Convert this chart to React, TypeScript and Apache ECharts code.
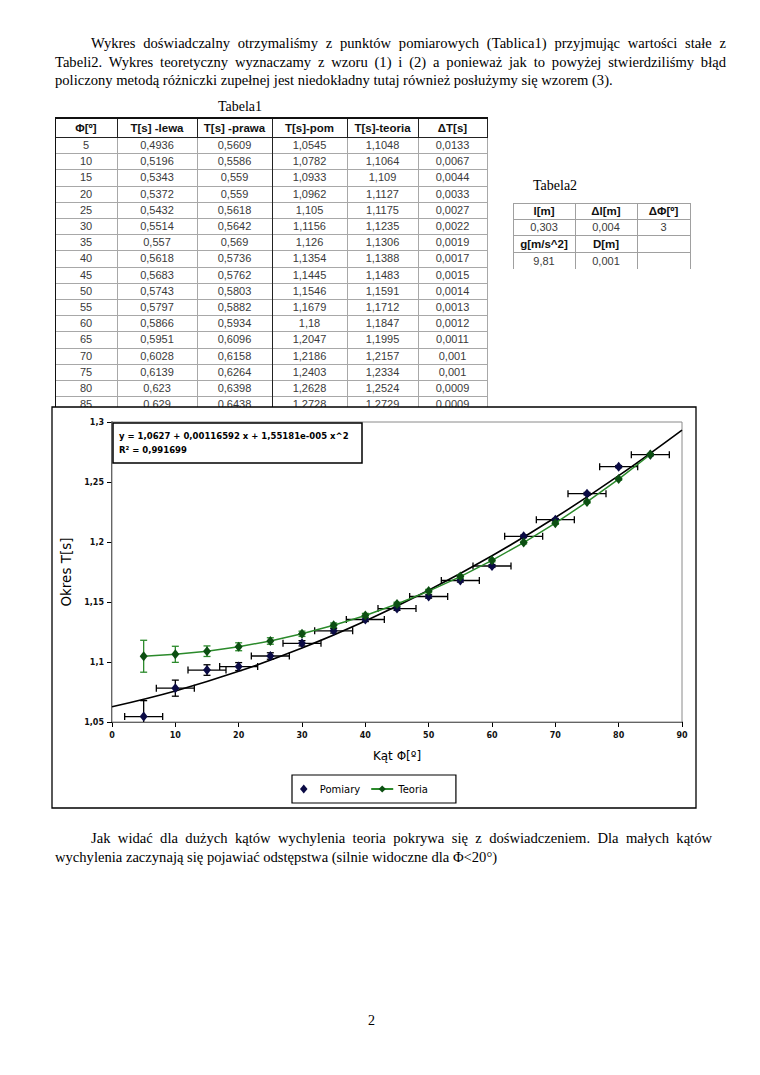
import React, { useEffect, useRef } from "react";
import * as echarts from "echarts";

// ---------- data ----------
const angles = [5, 10, 15, 20, 25, 30, 35, 40, 45, 50, 55, 60, 65, 70, 75, 80, 85];
const tLewa = [0.4936, 0.5196, 0.5343, 0.5372, 0.5432, 0.5514, 0.557, 0.5618, 0.5683, 0.5743, 0.5797, 0.5866, 0.5951, 0.6028, 0.6139, 0.623, 0.629];
const tPrawa = [0.5609, 0.5586, 0.559, 0.559, 0.5618, 0.5642, 0.569, 0.5736, 0.5762, 0.5803, 0.5882, 0.5934, 0.6096, 0.6158, 0.6264, 0.6398, 0.6438];
const tPom = [1.0545, 1.0782, 1.0933, 1.0962, 1.105, 1.1156, 1.126, 1.1354, 1.1445, 1.1546, 1.1679, 1.18, 1.2047, 1.2186, 1.2403, 1.2628, 1.2728];
const tTeoria = [1.1048, 1.1064, 1.109, 1.1127, 1.1175, 1.1235, 1.1306, 1.1388, 1.1483, 1.1591, 1.1712, 1.1847, 1.1995, 1.2157, 1.2334, 1.2524, 1.2729];
const deltaT = [0.0133, 0.0067, 0.0044, 0.0033, 0.0027, 0.0022, 0.0019, 0.0017, 0.0015, 0.0014, 0.0013, 0.0012, 0.0011, 0.001, 0.001, 0.0009, 0.0009];
const deltaPhi = 3;

// trend line
const trendX = [0, 10, 20, 30, 40, 50, 60, 70, 80, 90];
const trendY = [1.0627, 1.0759, 1.0922, 1.1116, 1.1342, 1.1598, 1.1885, 1.2204, 1.2553, 1.2933];

const table1Headers = ["Φ[º]", "T[s] -lewa", "T[s] -prawa", "T[s]-pom", "T[s]-teoria", "ΔT[s]"];
const table2Rows = [
  ["l[m]", "Δl[m]", "ΔΦ[º]"],
  ["0,303", "0,004", "3"],
  ["g[m/s^2]", "D[m]", ""],
  ["9,81", "0,001", ""],
];
const table2HeaderRows = [0, 2];

const equationLine1 = "y = 1,0627 + 0,00116592 x + 1,55181e-005 x^2";
const equationLine2 = "R² = 0,991699";

const yAxisName = "Okres T[s]";
const xAxisName = "Kąt Φ[º]";
const seriesNames = ["Pomiary", "Teoria"];

const para1Lines = [
  "Wykres doświadczalny otrzymaliśmy z punktów pomiarowych (Tablica1) przyjmując wartości stałe z",
  "Tabeli2. Wykres teoretyczny wyznaczamy z wzoru (1) i (2) a ponieważ jak to powyżej stwierdziliśmy błąd",
  "policzony metodą różniczki zupełnej jest niedokładny tutaj również posłużymy się wzorem (3).",
];
const para2Lines = [
  "Jak widać dla dużych kątów wychylenia teoria pokrywa się z doświadczeniem. Dla małych kątów",
  "wychylenia zaczynają się pojawiać odstępstwa (silnie widoczne dla Φ<20°)",
];

// ---------- layout ----------
const Y_MIN = 1.05;
const Y_MAX = 1.3;
const T1_X = 55;
const T1_Y = 118;
const T1_HEAD_H = 19;
const T1_ROW_H = 16.2;
const T1_COLS = [62, 80, 75, 75, 71, 69];
const T2_X = 513;
const T2_Y = 203;
const T2_COLS = [62, 62, 53];
const T2_ROW_H = [16, 16, 17, 17];

const fmt = (v: number) => String(v).replace(".", ",");

const serif = "'Liberation Serif', 'Times New Roman', serif";
const sans = "'Liberation Sans', Arial, sans-serif";
const dejavu = "'DejaVu Sans', sans-serif";

function TextLine({ text, left, top, width, justify }: { text: string; left: number; top: number; width: number; justify: boolean }) {
  return (
    <div
      style={{
        position: "absolute",
        left,
        top,
        width,
        fontFamily: serif,
        fontSize: 14.6,
        lineHeight: "18px",
        textAlign: justify ? "justify" : "left",
        textAlignLast: justify ? "justify" : "left",
        color: "#000",
      }}
    >
      {text}
    </div>
  );
}

function Table1() {
  const els: React.ReactNode[] = [];
  const xs: number[] = [T1_X];
  T1_COLS.forEach((w) => xs.push(xs[xs.length - 1] + w));
  const totalW = xs[xs.length - 1] - T1_X;
  const rows = angles.map((a, i) => [fmt(a), fmt(tLewa[i]), fmt(tPrawa[i]), fmt(tPom[i]), fmt(tTeoria[i]), fmt(deltaT[i])]);
  table1Headers.forEach((h, c) => {
    els.push(
      <div key={"h" + c} style={{ position: "absolute", left: xs[c], top: T1_Y, width: T1_COLS[c], height: T1_HEAD_H, display: "flex", alignItems: "center", justifyContent: "center", fontFamily: sans, fontWeight: "bold", fontSize: 11.5, color: "#111" }}>
        {h}
      </div>
    );
  });
  rows.forEach((r, ri) => {
    const top = T1_Y + T1_HEAD_H + ri * T1_ROW_H;
    r.forEach((v, c) => {
      els.push(
        <div key={"c" + ri + "_" + c} style={{ position: "absolute", left: xs[c], top, width: T1_COLS[c], height: T1_ROW_H, display: "flex", alignItems: "center", justifyContent: "center", fontFamily: sans, fontSize: 11, color: "#3a3a3a" }}>
          {v}
        </div>
      );
    });
    els.push(<div key={"hl" + ri} style={{ position: "absolute", left: T1_X, top: top + T1_ROW_H, width: totalW, height: 1, background: "#a8a8a8" }} />);
  });
  const bottom = T1_Y + T1_HEAD_H + rows.length * T1_ROW_H;
  xs.forEach((x, i) => {
    if (i === 0) return;
    const strong = i === 3;
    els.push(<div key={"vh" + i} style={{ position: "absolute", left: x, top: T1_Y, width: 1, height: T1_HEAD_H, background: "#222" }} />);
    els.push(<div key={"vd" + i} style={{ position: "absolute", left: x - (strong ? 0.5 : 0), top: T1_Y + T1_HEAD_H, width: strong ? 1.5 : 1, height: bottom - T1_Y - T1_HEAD_H, background: strong ? "#222" : "#a8a8a8" }} />);
  });
  els.push(<div key="top" style={{ position: "absolute", left: T1_X, top: T1_Y - 1, width: totalW + 1, height: 2, background: "#111" }} />);
  els.push(<div key="hb" style={{ position: "absolute", left: T1_X, top: T1_Y + T1_HEAD_H - 0.5, width: totalW + 1, height: 1.5, background: "#222" }} />);
  els.push(<div key="left" style={{ position: "absolute", left: T1_X - 0.5, top: T1_Y - 1, width: 1.5, height: bottom - T1_Y + 1, background: "#111" }} />);
  els.push(
    <div key="cap" style={{ position: "absolute", left: T1_X, top: T1_Y - 19, width: 370, textAlign: "center", fontFamily: serif, fontSize: 14, lineHeight: "16px", color: "#000" }}>
      Tabela1
    </div>
  );
  return <>{els}</>;
}

function Table2() {
  const els: React.ReactNode[] = [];
  const xs: number[] = [T2_X];
  T2_COLS.forEach((w) => xs.push(xs[xs.length - 1] + w));
  const ys: number[] = [T2_Y];
  T2_ROW_H.forEach((h) => ys.push(ys[ys.length - 1] + h));
  const totalW = xs[xs.length - 1] - T2_X;
  const totalH = ys[ys.length - 1] - T2_Y;
  table2Rows.forEach((r, ri) => {
    const head = table2HeaderRows.includes(ri);
    r.forEach((v, c) => {
      els.push(
        <div key={ri + "_" + c} style={{ position: "absolute", left: xs[c], top: ys[ri], width: T2_COLS[c], height: T2_ROW_H[ri], display: "flex", alignItems: "center", justifyContent: "center", fontFamily: sans, fontSize: head ? 11.5 : 11, fontWeight: head ? "bold" : "normal", color: head ? "#111" : "#3a3a3a" }}>
          {v}
        </div>
      );
    });
  });
  ys.forEach((y, i) => {
    if (i === ys.length - 1) return;
    els.push(<div key={"h" + i} style={{ position: "absolute", left: T2_X, top: y, width: totalW, height: 1, background: "#a0a0a0" }} />);
  });
  xs.forEach((x, i) => {
    els.push(<div key={"v" + i} style={{ position: "absolute", left: x, top: T2_Y, width: 1, height: totalH, background: "#a0a0a0" }} />);
  });
  els.push(
    <div key="cap" style={{ position: "absolute", left: T2_X + 20, top: 178, fontFamily: serif, fontSize: 14, lineHeight: "16px", color: "#000" }}>
      Tabela2
    </div>
  );
  return <>{els}</>;
}

function makeErrRender(color: string, withX: boolean) {
  return (params: any, api: any) => {
    const x = api.value(0);
    const y = api.value(1);
    const e = api.value(2);
    const lo = Math.max(y - e, Y_MIN);
    const hi = Math.min(y + e, Y_MAX);
    const pHi = api.coord([x, hi]);
    const pLo = api.coord([x, lo]);
    const c = api.coord([x, y]);
    const style = { stroke: color, lineWidth: 1.3, fill: "none" };
    const cap = 3.5;
    const children: any[] = [
      { type: "line", shape: { x1: pHi[0], y1: pHi[1], x2: pLo[0], y2: pLo[1] }, style },
    ];
    if (y + e <= Y_MAX) children.push({ type: "line", shape: { x1: pHi[0] - cap, y1: pHi[1], x2: pHi[0] + cap, y2: pHi[1] }, style });
    if (y - e >= Y_MIN) children.push({ type: "line", shape: { x1: pLo[0] - cap, y1: pLo[1], x2: pLo[0] + cap, y2: pLo[1] }, style });
    if (withX) {
      const pL = api.coord([x - deltaPhi, y]);
      const pR = api.coord([x + deltaPhi, y]);
      children.push({ type: "line", shape: { x1: pL[0], y1: c[1], x2: pR[0], y2: c[1] }, style });
      children.push({ type: "line", shape: { x1: pL[0], y1: c[1] - cap, x2: pL[0], y2: c[1] + cap }, style });
      children.push({ type: "line", shape: { x1: pR[0], y1: c[1] - cap, x2: pR[0], y2: c[1] + cap }, style });
    }
    return { type: "group", children };
  };
}

function Chart() {
  const ref = useRef<HTMLDivElement>(null);
  useEffect(() => {
    if (!ref.current) return;
    const chart = echarts.init(ref.current, undefined, { renderer: "svg" });
    const navy = "#0b0b45";
    const greenLine = "#2b8a2b";
    const greenMark = "#0c4f12";
    const option: any = {
      animation: false,
      backgroundColor: "transparent",
      grid: { left: 112, right: 78, top: 422, bottom: 353, show: true, borderColor: "#8a8a8a", borderWidth: 1, backgroundColor: "#fff", z: 1 },
      xAxis: {
        type: "value",
        min: 0,
        max: 90,
        interval: 10,
        name: xAxisName,
        nameLocation: "middle",
        nameGap: 28,
        nameTextStyle: { fontFamily: dejavu, fontSize: 12, color: "#000" },
        axisLine: { show: true, lineStyle: { color: "#000", width: 1.5 } },
        axisTick: { show: true, length: 5, lineStyle: { color: "#000", width: 1 } },
        axisLabel: { fontFamily: dejavu, fontSize: 8, fontWeight: "bold", color: "#111", margin: 9 },
        splitLine: { show: false },
      },
      yAxis: {
        type: "value",
        min: Y_MIN,
        max: Y_MAX,
        interval: 0.05,
        name: yAxisName,
        nameLocation: "middle",
        nameGap: 39,
        nameRotate: 90,
        nameTextStyle: { fontFamily: dejavu, fontSize: 13.5, color: "#000" },
        axisLine: { show: true, lineStyle: { color: "#000", width: 1.5 } },
        axisTick: { show: true, length: 5, lineStyle: { color: "#000", width: 1 } },
        axisLabel: { fontFamily: dejavu, fontSize: 8, fontWeight: "bold", color: "#111", margin: 8, formatter: (v: number) => String(+v.toFixed(2)).replace(".", ",") },
        splitLine: { show: false },
      },
      legend: {
        data: [
          { name: seriesNames[0], icon: "path://M5,0L10,6L5,12L0,6Z" },
          { name: seriesNames[1] },
        ],
        left: 292,
        top: 775,
        orient: "horizontal",
        borderColor: "#000",
        borderWidth: 1.2,
        backgroundColor: "#fff",
        padding: [9, 28, 9, 8],
        itemGap: 10,
        itemWidth: 22,
        itemHeight: 9,
        symbolKeepAspect: true,
        textStyle: { fontFamily: dejavu, fontSize: 10, color: "#000" },
      },
      graphic: [
        { type: "rect", z: -100, shape: { x: 52, y: 407, width: 644, height: 401 }, style: { fill: "#fff", stroke: "#000", lineWidth: 1.3 } },
        { type: "rect", z: 100, shape: { x: 113, y: 423, width: 249, height: 40 }, style: { fill: "#fff", stroke: "#000", lineWidth: 1.5 } },
        { type: "text", z: 101, x: 119, y: 436, style: { text: equationLine1, fontFamily: dejavu, fontSize: 8.5, fontWeight: "bold", fill: "#000", verticalAlign: "middle" } },
        { type: "text", z: 101, x: 119, y: 450, style: { text: equationLine2, fontFamily: dejavu, fontSize: 8.5, fontWeight: "bold", fill: "#000", verticalAlign: "middle" } },
      ],
      series: [
        {
          type: "line",
          name: "trend",
          data: trendX.map((x, i) => [x, trendY[i]]),
          smooth: 0.4,
          showSymbol: false,
          symbol: "none",
          lineStyle: { color: "#000", width: 1.6 },
          z: 3,
          silent: true,
        },
        {
          type: "custom",
          name: "pomErr",
          data: angles.map((a, i) => [a, tPom[i], deltaT[i]]),
          encode: { x: 0, y: 1 },
          renderItem: makeErrRender("#000", true),
          z: 4,
          silent: true,
        },
        {
          type: "custom",
          name: "teoErr",
          data: angles.map((a, i) => [a, tTeoria[i], deltaT[i]]),
          encode: { x: 0, y: 1 },
          renderItem: makeErrRender(greenLine, false),
          z: 4,
          silent: true,
        },
        {
          type: "scatter",
          name: seriesNames[0],
          data: angles.map((a, i) => [a, tPom[i]]),
          symbol: "diamond",
          symbolSize: [8, 10],
          itemStyle: { color: navy, opacity: 1 },
          z: 5,
        },
        {
          type: "line",
          name: seriesNames[1],
          data: angles.map((a, i) => [a, tTeoria[i]]),
          symbol: "diamond",
          symbolSize: [8, 10],
          showSymbol: true,
          itemStyle: { color: greenMark, opacity: 1 },
          lineStyle: { color: greenLine, width: 1.5 },
          z: 6,
        },
      ],
    };
    chart.setOption(option);
    return () => chart.dispose();
  }, []);
  return <div ref={ref} style={{ position: "absolute", left: 0, top: 0, width: 760, height: 1075 }} />;
}

export default function App() {
  return (
    <div style={{ position: "absolute", left: 0, top: 0, width: 760, height: 1075, background: "#fff", overflow: "hidden" }}>
      <TextLine text={para1Lines[0]} left={91} top={34} width={635} justify />
      <TextLine text={para1Lines[1]} left={55} top={52.5} width={671} justify />
      <TextLine text={para1Lines[2]} left={55} top={71} width={671} justify={false} />
      <Table1 />
      <Table2 />
      <Chart />
      <TextLine text={para2Lines[0]} left={91} top={829} width={621} justify />
      <TextLine text={para2Lines[1]} left={55} top={848} width={671} justify={false} />
      <div style={{ position: "absolute", left: 368, top: 1012, fontFamily: serif, fontSize: 14, lineHeight: "18px" }}>2</div>
    </div>
  );
}
